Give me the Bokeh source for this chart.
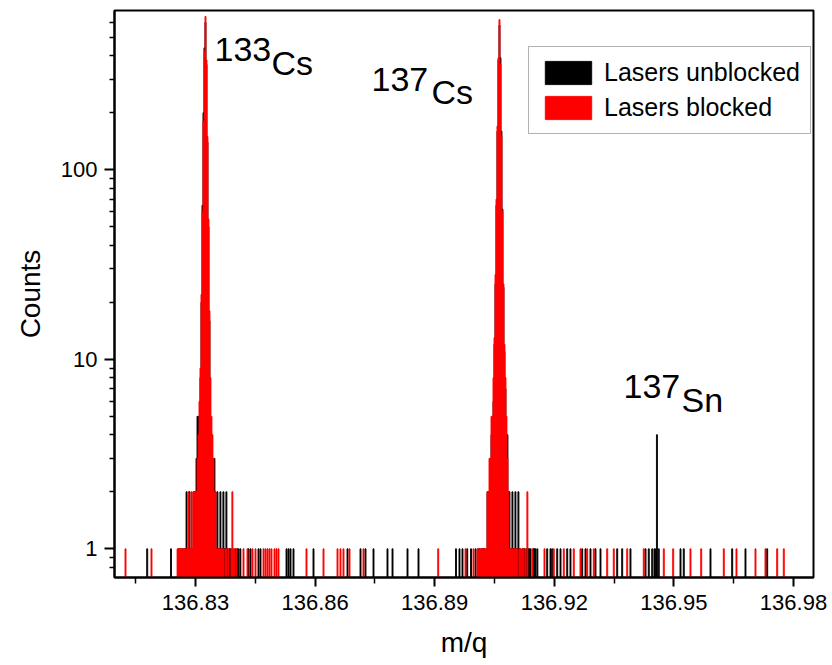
import numpy as np
from bokeh.plotting import figure
from bokeh.models import (Range1d, FixedTicker, PrintfTickFormatter, Legend,
                          LegendItem, Label, ColumnDataSource)
from bokeh.embed import file_html
from bokeh.resources import INLINE

# ---------------- data ----------------
BIN = 0.00025  # histogram bin width (m/q)

# 133Cs cluster: consecutive bins starting at this bin centre
cs133_start = 136.8250
red_cs133 = [0, 0, 1, 1, 1, 1, 1, 1, 1, 1,
             1, 1, 1, 2, 1, 1, 2, 1, 2, 2,
             2, 2, 3, 4, 6, 9, 22, 60, 180, 420,
             645, 380, 150, 55, 18, 8, 5, 4, 3, 2,
             2, 1, 1, 1, 1, 1, 1, 1, 1, 0,
             1, 1, 0, 1, 0, 0, 1, 2, 1, 1,
             0, 1, 0, 0, 0, 0]
black_cs133 = [0, 0, 0, 1, 0, 1, 1, 0, 1, 1,
               1, 2, 1, 1, 2, 1, 1, 1, 2, 2,
               2, 3, 5, 5, 5, 8, 20, 65, 200, 440,
               600, 360, 140, 50, 16, 5, 4, 3, 3, 3,
               2, 1, 2, 1, 1, 2, 1, 1, 2, 1,
               1, 2, 1, 0, 1, 1, 0, 0, 0, 0,
               1, 0, 1, 1, 0, 1]

# 137Cs cluster
cs137_start = 136.9000
red_cs137 = [0, 0, 0, 1, 1, 1, 1, 1, 1, 1,
             1, 1, 1, 2, 2, 3, 3, 5, 5, 8,
             13, 28, 70, 170, 390, 620, 360, 150, 60, 25,
             12, 8, 5, 3, 2, 1, 1, 1, 1, 1,
             1, 1, 1, 1, 0, 1, 1, 0, 1, 1,
             0, 1, 0, 2, 0, 0, 0, 0, 1, 0,
             0, 0, 0, 0, 0, 0]
black_cs137 = [0, 1, 0, 0, 1, 1, 0, 1, 1, 1,
               1, 0, 1, 2, 2, 2, 3, 4, 4, 6,
               12, 25, 65, 160, 380, 580, 390, 160, 62, 24,
               11, 7, 4, 4, 2, 2, 1, 1, 2, 1,
               1, 2, 1, 1, 2, 1, 1, 0, 1, 1,
               1, 0, 1, 1, 1, 1, 1, 0, 0, 1,
               1, 1, 0, 1, 0, 0]

# isolated single-count bins elsewhere (m/q)
red_single = [136.81244, 136.81896, 136.84204, 136.84304, 136.84430, 136.84505,
              136.84706, 136.84756, 136.84806, 136.84856, 136.84906, 136.84982,
              136.85032, 136.85082, 136.85784, 136.86211, 136.86562, 136.86637,
              136.86712, 136.86863, 136.87214, 136.89088, 136.89773, 136.89973,
              136.91754, 136.91987, 136.92238, 136.92489, 136.92657, 136.92825,
              136.92991, 136.93327, 136.93492, 136.93829, 136.94245, 136.94747,
              136.94982, 136.95416, 136.95685, 136.96252, 136.96570, 136.97047,
              136.97298, 136.97591, 136.97757]
black_single = [136.81788, 136.82385, 136.84329, 136.84380, 136.84580, 136.84630,
                136.85283, 136.85333, 136.85383, 136.85458, 136.85960, 136.86813,
                136.87139, 136.87264, 136.87465, 136.87816, 136.87942, 136.88318,
                136.88594, 136.89534, 136.89622, 136.89697, 136.89815, 136.89911,
                136.91822, 136.91905, 136.91947, 136.92073, 136.92156, 136.92324,
                136.92406, 136.92700, 136.92783, 136.92908, 136.93033, 136.93159,
                136.93578, 136.93703, 136.93911, 136.94288, 136.94370, 136.94456,
                136.94513, 136.94551, 136.94621, 136.95166, 136.95248, 136.95918,
                136.96462, 136.96796, 136.97340]

# 137Sn line (lasers unblocked only)
sn137_mq = [136.94575]
sn137_counts = [4]

x_ticks = [136.83, 136.86, 136.89, 136.92, 136.95, 136.98]
x_minor = [136.815, 136.845, 136.875, 136.905, 136.935, 136.965]
y_ticks = [1, 10, 100]
y_minor = [0.8, 0.9, 2, 3, 4, 5, 6, 7, 8, 9, 20, 30, 40, 50, 60, 70, 80, 90,
           200, 300, 400, 500, 600, 700, 800, 900]

# peak annotations: text, m/q, counts (text baseline)
labels = [("133", 136.834766, 430.0), ("Cs", 136.849063, 367.0),
          ("137", 136.874146, 298.0), ("Cs", 136.889196, 258.0),
          ("137", 136.937355, 7.17), ("Sn", 136.951904, 6.13)]

FONT = "Liberation Sans"


def cluster(start, counts):
    c = np.asarray(counts, dtype=float)
    x = start + BIN * np.arange(len(c))
    m = c > 0
    return x[m], c[m]


bx1, by1 = cluster(cs133_start, black_cs133)
bx2, by2 = cluster(cs137_start, black_cs137)
black_x = np.concatenate([bx1, bx2, black_single, sn137_mq])
black_y = np.concatenate([by1, by2, np.ones(len(black_single)), sn137_counts])

rx1, ry1 = cluster(cs133_start, red_cs133)
rx2, ry2 = cluster(cs137_start, red_cs137)
red_x = np.concatenate([rx1, rx2, red_single])
red_y = np.concatenate([ry1, ry2, np.ones(len(red_single))])

black_src = ColumnDataSource(dict(left=black_x - BIN / 2, right=black_x + BIN / 2,
                                  top=black_y, bottom=np.full(len(black_x), 0.5)))
red_src = ColumnDataSource(dict(left=red_x - BIN / 2, right=red_x + BIN / 2,
                                top=red_y, bottom=np.full(len(red_x), 0.5)))

# ---------------- figure ----------------
p = figure(width=832, height=665, y_axis_type="log",
           x_range=Range1d(136.80968, 136.98502), y_range=Range1d(0.706, 693),
           output_backend="svg", toolbar_location=None,
           min_border_left=114, min_border_right=19,
           min_border_top=10, min_border_bottom=88)
p.background_fill_color = "white"
p.border_fill_color = "white"
p.grid.visible = False
p.outline_line_color = "black"
p.outline_line_width = 2

r_black = p.quad(left="left", right="right", top="top", bottom="bottom",
                 source=black_src, fill_color="black", line_color="black",
                 line_width=0.9)
r_red = p.quad(left="left", right="right", top="top", bottom="bottom",
               source=red_src, fill_color="#ff0000", line_color="#ff0000",
               line_width=0.9)

legend = Legend(items=[LegendItem(label="Lasers unblocked", renderers=[r_black]),
                       LegendItem(label="Lasers blocked", renderers=[r_red])],
                location=(414, 443), glyph_width=58, glyph_height=29, spacing=4,
                padding=10, label_standoff=7, label_height=31,
                label_text_font_size="25px", label_text_font=FONT,
                label_text_color="black",
                border_line_color="#666666", border_line_width=1.5,
                background_fill_color="white", background_fill_alpha=1.0, margin=0)
p.add_layout(legend)

# axes
for ax in (p.xaxis[0], p.yaxis[0]):
    ax.axis_line_width = 2
    ax.axis_line_color = "black"
    ax.major_tick_line_width = 2
    ax.minor_tick_line_width = 1.5
    ax.major_tick_in = 0
    ax.minor_tick_in = 0
    ax.major_label_text_font = FONT
    ax.major_label_text_font_size = "22px"
    ax.major_label_text_color = "black"
    ax.axis_label_text_font = FONT
    ax.axis_label_text_font_size = "28px"
    ax.axis_label_text_font_style = "normal"
    ax.axis_label_text_color = "black"

p.xaxis.ticker = FixedTicker(ticks=x_ticks, minor_ticks=x_minor)
p.xaxis.formatter = PrintfTickFormatter(format="%.2f")
p.xaxis.major_tick_out = 9
p.xaxis.minor_tick_out = 6
p.xaxis.major_label_standoff = 8
p.xaxis.axis_label = "m/q"
p.xaxis.axis_label_standoff = 14

p.yaxis.ticker = FixedTicker(ticks=y_ticks, minor_ticks=y_minor)
p.yaxis.formatter = PrintfTickFormatter(format="%d")
p.yaxis.major_tick_out = 10
p.yaxis.minor_tick_out = 5
p.yaxis.major_label_standoff = 7
p.yaxis.axis_label = "Counts"
p.yaxis.axis_label_standoff = 12

for txt, lx, ly in labels:
    p.add_layout(Label(x=lx, y=ly, text=txt, text_font=FONT, text_font_size="34px",
                       text_color="black", text_baseline="alphabetic"))

open("out.html", "w").write(file_html(p, INLINE))
